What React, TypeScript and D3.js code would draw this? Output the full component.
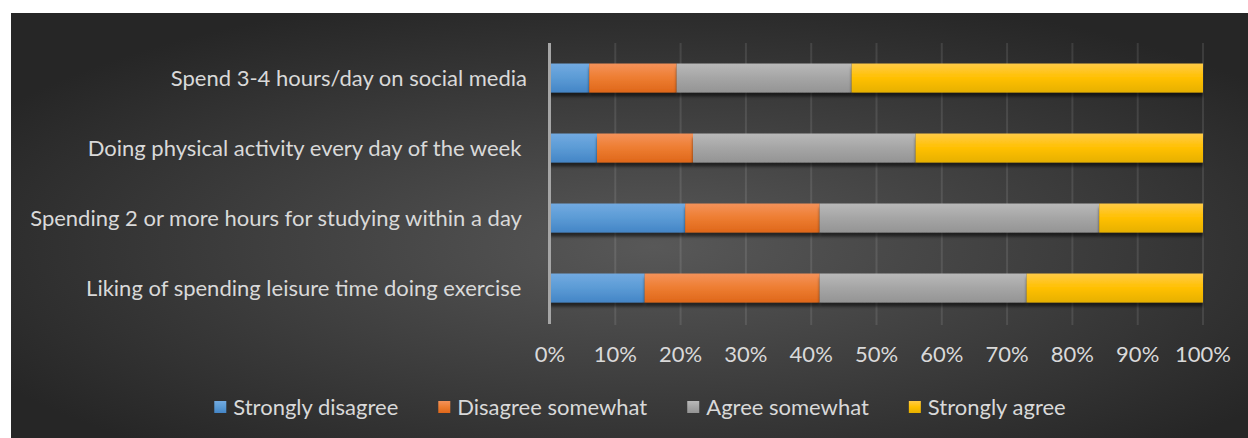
import React, { useEffect, useRef } from "react";
import * as d3 from "d3";

const categories = [
  "Spend 3-4 hours/day on social media",
  "Doing physical activity every day of the week ",
  "Spending 2 or more hours for studying within a day ",
  "Liking of spending leisure time doing exercise ",
];
const seriesNames = ["Strongly disagree", "Disagree somewhat", "Agree somewhat", "Strongly agree"];
const stronglyDisagree = [6.0, 7.2, 20.7, 14.5];
const disagreeSomewhat = [13.4, 14.7, 20.6, 26.8];
const agreeSomewhat = [26.8, 34.1, 42.8, 31.7];
const stronglyAgree = [53.8, 44.0, 15.9, 27.0];
const tickValues = [0, 10, 20, 30, 40, 50, 60, 70, 80, 90, 100];

const W = 1248;
const H = 438;
const FONT = "Lato, 'Open Sans', sans-serif";
const FS = 22;
const gradStops = [
  ["#72aae1", "#5b9bd5", "#4485c6"],
  ["#f4925a", "#ed7d31", "#df671a"],
  ["#b9b9b9", "#a5a5a5", "#949494"],
  ["#ffcb47", "#ffc000", "#e6b000"],
];

export default function App() {
  const ref = useRef<SVGSVGElement | null>(null);

  useEffect(() => {
    const svg = d3.select(ref.current);
    svg.selectAll("*").remove();
    const defs = svg.append("defs");

    const bg = defs
      .append("radialGradient")
      .attr("id", "bg")
      .attr("cx", 0.52)
      .attr("cy", 0.55)
      .attr("r", 0.62);
    bg.append("stop").attr("offset", 0).attr("stop-color", "#585858");
    bg.append("stop").attr("offset", 1).attr("stop-color", "#262626");

    gradStops.forEach((s, i) => {
      const g = defs
        .append("linearGradient")
        .attr("id", "g" + i)
        .attr("x1", 0)
        .attr("y1", 0)
        .attr("x2", 0)
        .attr("y2", 1);
      g.append("stop").attr("offset", 0).attr("stop-color", s[0]);
      g.append("stop").attr("offset", 0.5).attr("stop-color", s[1]);
      g.append("stop").attr("offset", 1).attr("stop-color", s[2]);
    });

    const f = defs
      .append("filter")
      .attr("id", "shadow")
      .attr("x", -0.05)
      .attr("y", -0.3)
      .attr("width", 1.1)
      .attr("height", 1.8);
    f.append("feDropShadow")
      .attr("dx", 0)
      .attr("dy", 4)
      .attr("stdDeviation", 1.5)
      .attr("flood-color", "#000")
      .attr("flood-opacity", 0.55);

    svg
      .append("rect")
      .attr("x", 11)
      .attr("y", 13)
      .attr("width", W - 11)
      .attr("height", H - 13)
      .attr("fill", "url(#bg)");

    const x = d3.scaleLinear().domain([0, 100]).range([550, 1203]);
    const y = d3
      .scaleBand<string>()
      .domain(categories)
      .range([43, 323])
      .paddingInner(0.586)
      .paddingOuter(0.293);

    svg
      .append("g")
      .selectAll("line")
      .data(tickValues.slice(1))
      .join("line")
      .attr("x1", (d) => x(d))
      .attr("x2", (d) => x(d))
      .attr("y1", 43)
      .attr("y2", 325)
      .attr("stroke", "rgba(255,255,255,0.1)")
      .attr("stroke-width", 2);

    const series = [stronglyDisagree, disagreeSomewhat, agreeSomewhat, stronglyAgree];
    const rows = categories.map((c, i) => {
      const o: any = { cat: c };
      seriesNames.forEach((s, k) => (o[s] = series[k][i]));
      return o;
    });
    const stacked = d3.stack<any>().keys(seriesNames)(rows);

    const barsG = svg.append("g");
    stacked.forEach((layer, k) => {
      barsG
        .append("g")
        .attr("filter", "url(#shadow)")
        .selectAll("rect")
        .data(layer)
        .join("rect")
        .attr("x", (d) => x(d[0]))
        .attr("width", (d) => x(d[1]) - x(d[0]))
        .attr("y", (d) => y(d.data.cat) as number)
        .attr("height", y.bandwidth())
        .attr("fill", `url(#g${k})`);
    });

    svg
      .append("line")
      .attr("x1", 549.5)
      .attr("x2", 549.5)
      .attr("y1", 43)
      .attr("y2", 324)
      .attr("stroke", "#a6a6a6")
      .attr("stroke-width", 3);

    svg
      .append("g")
      .selectAll("text")
      .data(categories)
      .join("text")
      .attr("x", 527)
      .attr("y", (d) => (y(d) as number) + y.bandwidth() / 2)
      .attr("dy", "0.36em")
      .attr("text-anchor", "end")
      .style("white-space", "pre")
      .attr("font-family", FONT)
      .attr("font-size", FS)
      .attr("fill", "#d9d9d9")
      .text((d) => d);

    svg
      .append("g")
      .selectAll("text")
      .data(tickValues)
      .join("text")
      .attr("x", (d) => x(d))
      .attr("y", 362)
      .attr("text-anchor", "middle")
      .attr("font-family", FONT)
      .attr("font-size", FS)
      .attr("fill", "#d9d9d9")
      .text((d) => d3.format(".0%")(d / 100));

    const lg = svg.append("g");
    const items = lg.selectAll("g").data(seriesNames).join("g");
    items
      .append("rect")
      .attr("width", 12)
      .attr("height", 12)
      .attr("y", 401)
      .attr("fill", (_, i) => `url(#g${i})`);
    items
      .append("text")
      .attr("x", 19)
      .attr("y", 414.5)
      .attr("font-family", FONT)
      .attr("font-size", FS)
      .attr("fill", "#d9d9d9")
      .text((d) => d);
    const widths: number[] = [];
    items.each(function () {
      const t = d3.select(this).select("text").node() as SVGTextElement;
      widths.push(19 + t.getComputedTextLength());
    });
    const gap = 40;
    const total = d3.sum(widths) + gap * (widths.length - 1);
    let cx = 640 - total / 2;
    items.attr("transform", (_, i) => {
      const tx = cx;
      cx += widths[i] + gap;
      return `translate(${tx},0)`;
    });
  }, []);

  return (
    <svg
      ref={ref}
      width={W}
      height={H}
      style={{ display: "block", position: "absolute", left: 0, top: 0 }}
    />
  );
}
